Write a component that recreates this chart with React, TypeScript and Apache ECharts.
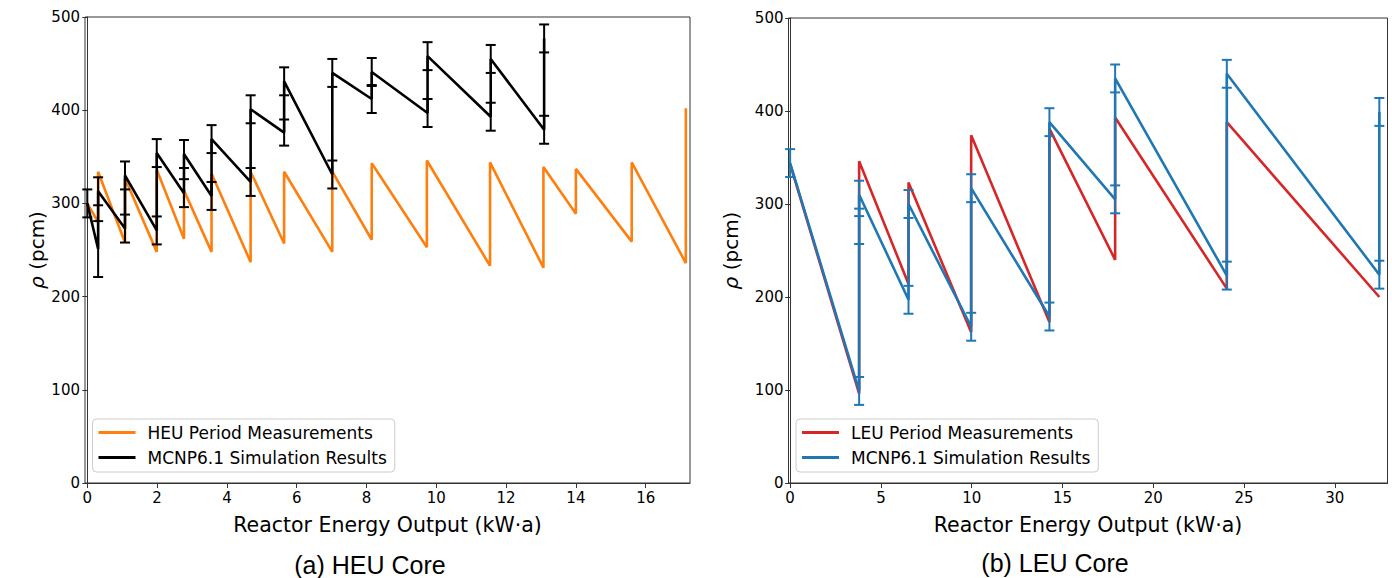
import React, { useEffect, useRef } from 'react';
import * as echarts from 'echarts';

// ---------- (a) HEU core ----------
const HEU_MEAS_X = [0, 0.31, 0.31, 1.08, 1.08, 1.99, 1.99, 2.77, 2.77, 3.56, 3.56, 4.68, 4.68, 5.64, 5.64, 7.02, 7.02, 8.15, 8.15, 9.73, 9.73, 11.54, 11.54, 13.07, 13.07, 14.0, 14.0, 15.6, 15.6, 17.15, 17.15];
const HEU_MEAS_Y = [300, 280, 334, 258, 327, 248, 336, 262, 314, 248, 332, 237, 334, 257, 334, 248, 334, 261, 343, 253, 346, 233, 344, 231, 339, 289, 337, 259, 344, 236, 402];

const HEU_SIM_X = [0, 0.31, 0.31, 1.08, 1.08, 1.99, 1.99, 2.77, 2.77, 3.56, 3.56, 4.68, 4.68, 5.64, 5.64, 7.02, 7.02, 8.15, 8.15, 9.75, 9.75, 11.56, 11.56, 13.09, 13.09];
const HEU_SIM_Y = [300, 251, 313, 273, 330, 271, 354, 311, 353, 308, 369, 323, 401, 376, 431, 331, 440, 412, 441, 397, 458, 393, 455, 379, 477];
const HEU_SIM_ERR = [15, 30, 15, 15, 15, 15, 15, 15, 15, 15, 15, 15, 15, 14, 15, 15, 15, 15, 15, 15, 15, 15, 15, 15, 15];

// ---------- (b) LEU core ----------
const LEU_MEAS_X = [0, 3.8, 3.8, 6.52, 6.52, 9.97, 9.97, 14.28, 14.28, 17.9, 17.9, 24.05, 24.05, 32.45];
const LEU_MEAS_Y = [343, 96, 346, 214, 323, 162, 374, 173, 381, 240, 393, 209, 388, 200];

const LEU_SIM_X = [0, 3.8, 3.8, 3.8, 6.52, 6.52, 9.97, 9.97, 14.28, 14.28, 17.9, 17.9, 24.05, 24.05, 32.45, 32.45];
const LEU_SIM_Y = [344, 99, 272, 310, 197, 300, 168, 317, 179, 388, 305, 435, 223, 440, 224, 399];
const LEU_SIM_ERR = [15, 15, 15, 15, 15, 15, 15, 15, 15, 15, 15, 15, 15, 15, 15, 15];

// ---------- axes ----------
const X_TICKS_A = [0, 2, 4, 6, 8, 10, 12, 14, 16];
const X_TICKS_B = [0, 5, 10, 15, 20, 25, 30];
const X_RANGE_A = [-0.066, 17.27];
const X_RANGE_B = [-0.09, 32.9];
const Y_RANGE = [0, 500];
const Y_STEP = 100;

const X_NAME = 'Reactor Energy Output (kW·a)';
const Y_NAME = '{r|ρ} (pcm)';
const NAMES = {
  heu: 'HEU Period Measurements',
  leu: 'LEU Period Measurements',
  sim: 'MCNP6.1 Simulation Results',
};
const CAPTIONS = ['(a) HEU Core', '(b) LEU Core'];

const COLORS = { orange: '#ff7f0e', black: '#000000', red: '#d62728', blue: '#1f77b4' };
const FONT = "'DejaVu Sans', sans-serif";
const CAPTION_FONT = "'Liberation Sans', Arial, sans-serif";

const errorBar = (color: string) => (params: any, api: any) => {
  const x = api.value(0);
  const y = api.value(1);
  const e = api.value(2);
  const lo = api.coord([x, y - e]);
  const hi = api.coord([x, y + e]);
  const cap = 5;
  const style = { stroke: color, lineWidth: 2 };
  return {
    type: 'group',
    children: [
      { type: 'line', shape: { x1: lo[0], y1: lo[1], x2: hi[0], y2: hi[1] }, style },
      { type: 'line', shape: { x1: lo[0] - cap, y1: lo[1], x2: lo[0] + cap, y2: lo[1] }, style },
      { type: 'line', shape: { x1: hi[0] - cap, y1: hi[1], x2: hi[0] + cap, y2: hi[1] }, style },
    ],
  };
};

const pairs = (xs: number[], ys: number[]) => xs.map((x, i) => [x, ys[i]]);
const triples = (xs: number[], ys: number[], es: number[]) => xs.map((x, i) => [x, ys[i], es[i]]);

const axisCommon = {
  axisLine: { show: true, lineStyle: { color: '#333', width: 1 } },
  splitLine: { show: false },
};

const makeX = (gridIndex: number, range: number[], ticks: number[]) => ({
  type: 'value',
  gridIndex,
  min: range[0],
  max: range[1],
  ...axisCommon,
  axisTick: { show: true, length: 5, inside: false, customValues: ticks, lineStyle: { color: '#333' } },
  axisLabel: { customValues: ticks, fontSize: 15, color: '#000', fontFamily: FONT, margin: 7 },
  name: X_NAME,
  nameLocation: 'middle',
  nameGap: 31,
  nameTextStyle: { fontSize: 20.5, color: '#000', fontFamily: FONT },
});

const makeY = (gridIndex: number, nameGap: number) => ({
  type: 'value',
  gridIndex,
  min: Y_RANGE[0],
  max: Y_RANGE[1],
  interval: Y_STEP,
  ...axisCommon,
  axisTick: { show: true, length: 5, inside: false, lineStyle: { color: '#333' } },
  axisLabel: { fontSize: 15, color: '#000', fontFamily: FONT, margin: 5 },
  name: Y_NAME,
  nameLocation: 'middle',
  nameGap,
  nameRotate: 90,
  nameTextStyle: {
    fontSize: 20,
    color: '#000',
    fontFamily: FONT,
    rich: { r: { fontSize: 20, fontStyle: 'italic', fontFamily: FONT, color: '#000' } },
  },
});

const makeLegend = (left: number, first: { name: string; color: string }, second: { name: string; color: string }) => ({
  orient: 'vertical',
  left,
  top: 419,
  padding: [5, 8, 6, 6],
  itemGap: 8,
  itemWidth: 37,
  itemHeight: 3,
  backgroundColor: 'rgba(255,255,255,0.8)',
  borderColor: '#cccccc',
  borderWidth: 1,
  borderRadius: 4,
  textStyle: { fontSize: 17, color: '#000', fontFamily: FONT, lineHeight: 17, padding: [0, 0, 0, 7] },
  data: [
    { name: first.name, icon: 'rect', itemStyle: { color: first.color } },
    { name: second.name, icon: 'rect', itemStyle: { color: second.color } },
  ],
});

export default function App() {
  const ref = useRef<HTMLDivElement>(null);

  useEffect(() => {
    if (!ref.current) return;
    const chart = echarts.init(ref.current, undefined, { renderer: 'svg' });

    const option: any = {
      animation: false,
      backgroundColor: '#ffffff',
      grid: [
        { left: 85, top: 17, width: 605, height: 466, show: true, borderColor: '#333', borderWidth: 1, containLabel: false },
        { left: 788.5, top: 18, width: 599, height: 465, show: true, borderColor: '#333', borderWidth: 1, containLabel: false },
      ],
      xAxis: [makeX(0, X_RANGE_A, X_TICKS_A), makeX(1, X_RANGE_B, X_TICKS_B)],
      yAxis: [makeY(0, 23), makeY(1, 48)],
      legend: [
        makeLegend(92.5, { name: NAMES.heu, color: COLORS.orange }, { name: NAMES.sim, color: COLORS.black }),
        makeLegend(796, { name: NAMES.leu, color: COLORS.red }, { name: NAMES.sim, color: COLORS.blue }),
      ],
      series: [
        {
          name: NAMES.heu,
          type: 'line',
          xAxisIndex: 0,
          yAxisIndex: 0,
          data: pairs(HEU_MEAS_X, HEU_MEAS_Y),
          showSymbol: false,
          symbol: 'none',
          lineStyle: { color: COLORS.orange, width: 2.6 },
          itemStyle: { color: COLORS.orange },
          z: 2,
        },
        {
          name: NAMES.sim,
          type: 'custom',
          xAxisIndex: 0,
          yAxisIndex: 0,
          renderItem: errorBar(COLORS.black),
          encode: { x: 0, y: 1 },
          data: triples(HEU_SIM_X, HEU_SIM_Y, HEU_SIM_ERR),
          itemStyle: { color: COLORS.black },
          z: 3,
        },
        {
          name: NAMES.sim,
          type: 'line',
          xAxisIndex: 0,
          yAxisIndex: 0,
          data: pairs(HEU_SIM_X, HEU_SIM_Y),
          showSymbol: false,
          symbol: 'none',
          lineStyle: { color: COLORS.black, width: 2.6 },
          itemStyle: { color: COLORS.black },
          z: 4,
        },
        {
          name: NAMES.leu,
          type: 'line',
          xAxisIndex: 1,
          yAxisIndex: 1,
          data: pairs(LEU_MEAS_X, LEU_MEAS_Y),
          showSymbol: false,
          symbol: 'none',
          lineStyle: { color: COLORS.red, width: 2.6 },
          itemStyle: { color: COLORS.red },
          z: 2,
        },
        {
          name: NAMES.sim,
          type: 'custom',
          xAxisIndex: 1,
          yAxisIndex: 1,
          renderItem: errorBar(COLORS.blue),
          encode: { x: 0, y: 1 },
          data: triples(LEU_SIM_X, LEU_SIM_Y, LEU_SIM_ERR),
          itemStyle: { color: COLORS.blue },
          z: 3,
        },
        {
          name: NAMES.sim,
          type: 'line',
          xAxisIndex: 1,
          yAxisIndex: 1,
          data: pairs(LEU_SIM_X, LEU_SIM_Y),
          showSymbol: false,
          symbol: 'none',
          lineStyle: { color: COLORS.blue, width: 2.6 },
          itemStyle: { color: COLORS.blue },
          z: 4,
        },
      ],
      graphic: [
        {
          type: 'text',
          style: { text: CAPTIONS[0], x: 370, y: 565, textAlign: 'center', textVerticalAlign: 'middle', fontSize: 25, fontFamily: CAPTION_FONT, fill: '#000' },
        },
        {
          type: 'text',
          style: { text: CAPTIONS[1], x: 1055, y: 563, textAlign: 'center', textVerticalAlign: 'middle', fontSize: 25, fontFamily: CAPTION_FONT, fill: '#000' },
        },
      ],
    };

    chart.setOption(option);
    return () => chart.dispose();
  }, []);

  return <div ref={ref} style={{ position: 'fixed', left: 0, top: 0, width: 1392, height: 578, background: '#fff' }} />;
}
